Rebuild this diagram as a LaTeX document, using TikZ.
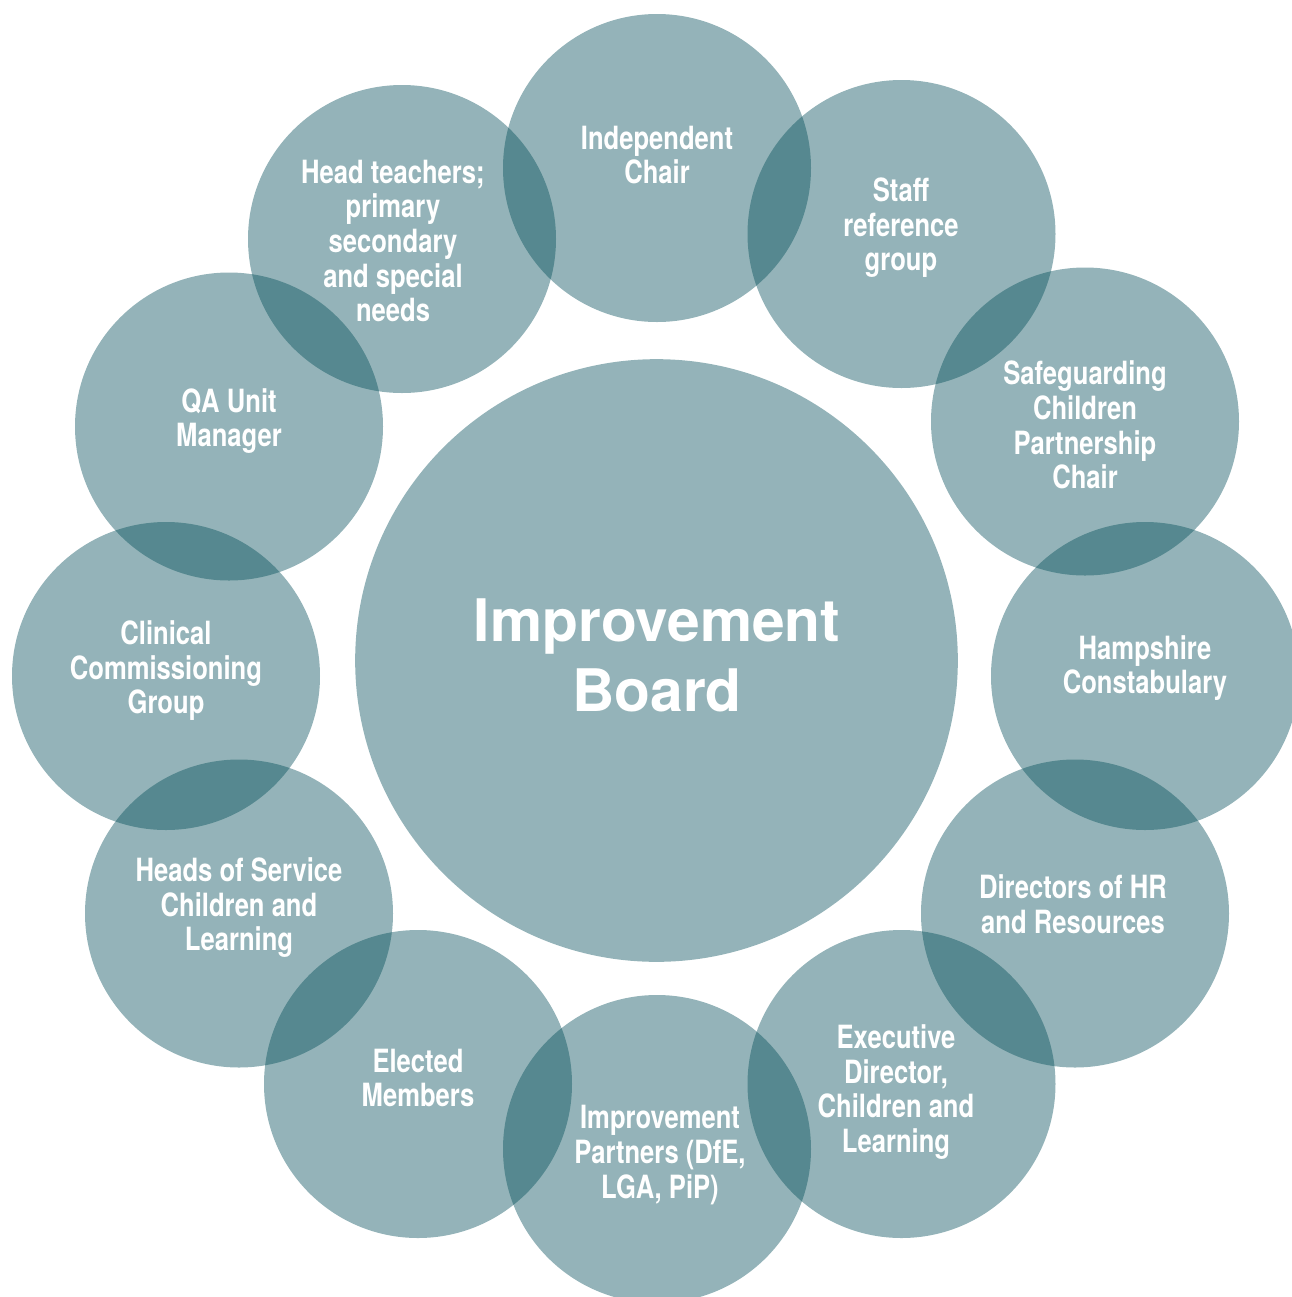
\documentclass[tikz,border=0pt]{standalone}
\usepackage{fontspec}
\setmainfont{TeX Gyre Heros}
\newfontfamily\narrowfont{TeX Gyre Heros}[FakeStretch=0.8]
\definecolor{boardteal}{RGB}{0,75,87}

\begin{document}
\begin{tikzpicture}[x=0.75pt,y=-0.75pt,
    bubble/.style={circle,fill=boardteal,fill opacity=0.42,inner sep=0pt,minimum size=231pt},
    hub/.style={bubble,minimum size=452pt},
    tag/.style={text=white,align=center,font=\narrowfont\bfseries\fontsize{24}{25.9}\selectfont},
    title/.style={text=white,align=center,font=\bfseries\fontsize{44}{52.5}\selectfont}]
      \useasboundingbox (0,0) rectangle (1292,1297);
      \node[hub] (board) at (656.5,660.5) {};
      \draw
        (657,168) node[bubble] (chair){}
        (901.5,234) node[bubble] (staff){}
        (1085,421.5) node[bubble] (safeguard){}
        (1145,676) node[bubble] (police){}
        (1075,913.5) node[bubble] (hr){}
        (901.5,1084) node[bubble] (exec){}
        (657,1149) node[bubble] (partners){}
        (418,1084) node[bubble] (members){}
        (239,913.5) node[bubble] (service){}
        (166,676) node[bubble] (ccg){}
        (229,426.5) node[bubble] (qa){}
        (402,239) node[bubble] (heads){};
      \node[title] (board-t) at (657,655) {Improvement\\Board};
      \begin{scope}[tag]
        \node (chair-t) at (657,155) {Independent\\Chair};
        \node (staff-t) at (901,228) {Staff\\reference\\group};
        \node (safeguard-t) at (1085,425) {Safeguarding\\Children\\Partnership\\Chair};
        \node (police-t) at (1145,668) {Hampshire\\Constabulary};
        \node (hr-t) at (1073,904) {Directors of HR\\and Resources};
        \node (exec-t) at (896,1092) {Executive\\Director,\\Children and\\Learning};
        \node (partners-t) at (660,1155) {Improvement\\Partners (DfE,\\LGA, PiP)};
        \node (members-t) at (418,1078) {Elected\\Members};
        \node (service-t) at (239,908) {Heads of Service\\Children and\\Learning};
        \node (ccg-t) at (166,671) {Clinical\\Commissioning\\Group};
        \node (qa-t) at (229,421) {QA Unit\\Manager};
        \node (heads-t) at (393,241) {Head teachers;\\primary\\secondary\\and special\\needs};
      \end{scope}
    \end{tikzpicture}
\end{document}
